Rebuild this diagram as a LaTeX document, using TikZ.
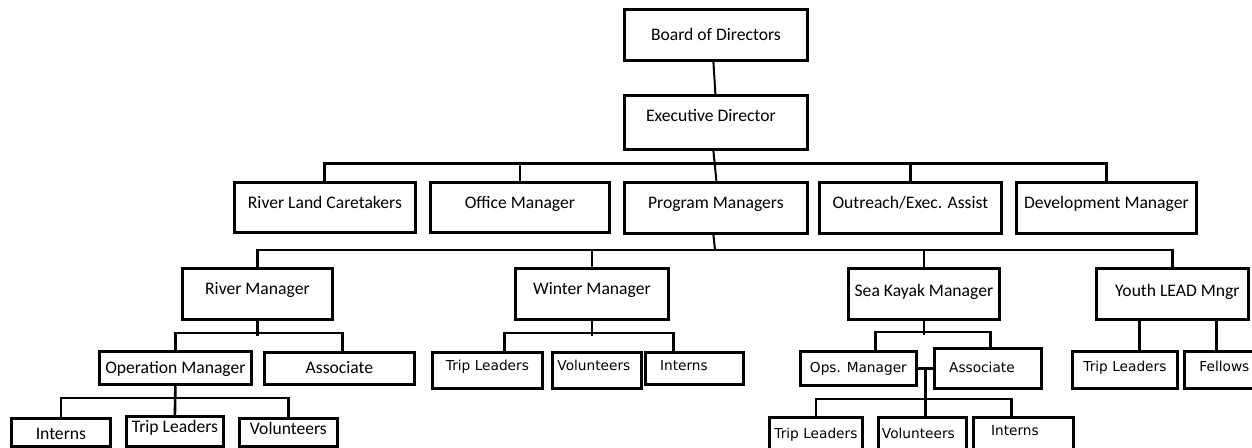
\documentclass[tikz,border=0pt]{standalone}
\usepackage{fontspec}
\setmainfont{Carlito}
\newfontfamily\crewfont{DejaVu Sans}

\begin{document}
\begin{tikzpicture}[x=1pt, y=-1pt,
  unit/.style={draw, line width=2.8pt, inner sep=0pt, anchor=north west, text height=11pt, text depth=0pt, font=\fontsize{17.6}{20}\selectfont},
  crew/.style={unit, text height=10pt, font=\crewfont\fontsize{13.7}{16}\selectfont},
  link/.style={line width=2.6pt},
  bar/.style={line width=3pt}]
	\useasboundingbox (0,0) rectangle (1252,447);
	\clip (0,0) rectangle (1252,447);
	\node[unit, minimum width=183pt, minimum height=51pt] (board) at (623,8) {Board of Directors};
	\node[unit, minimum width=183pt, minimum height=54pt, text depth=12pt] (exec) at (623,94) {Executive Director\hspace*{10pt}};
	\node[unit, minimum width=181pt, minimum height=50pt, text depth=9pt] (rlc) at (233,181) {River Land Caretakers};
	\node[unit, minimum width=179pt, minimum height=50pt, text depth=9pt] (office) at (429,181) {Office Manager};
	\node[unit, minimum width=183pt, minimum height=51pt, text depth=9pt] (prog) at (623,181) {Program Managers};
	\node[unit, minimum width=182pt, minimum height=51pt, text depth=9pt] (outr) at (818,181) {Outreach/Exec. Assist};
	\node[unit, minimum width=180pt, minimum height=51pt, text depth=9pt] (dev) at (1015,181) {Development Manager};
	\node[unit, minimum width=150pt, minimum height=51pt, text depth=10pt] (rivm) at (181,267) {River Manager};
	\node[unit, minimum width=153pt, minimum height=51pt, text depth=10pt] (wint) at (514,267) {Winter Manager};
	\node[unit, minimum width=151pt, minimum height=51pt, text depth=6pt] (sea) at (847,267) {Sea Kayak Manager};
	\node[unit, minimum width=152pt, minimum height=51pt, text depth=6pt] (youth) at (1095,267) {\hspace*{10pt}Youth LEAD Mngr};
	\node[unit, minimum width=152pt, minimum height=33pt] (opm) at (98,350) {Operation Manager};
	\node[unit, minimum width=150pt, minimum height=32pt] (rasc) at (263,351) {Associate};
	\node[unit, minimum width=99pt, minimum height=28pt, text height=14pt] (rint) at (10,417) {Interns};
	\node[unit, minimum width=97pt, minimum height=30pt, text depth=8pt] (rtrip) at (125,415) {Trip Leaders};
	\node[unit, minimum width=98pt, minimum height=28pt, text depth=7pt] (rvol) at (238,417) {Volunteers};
	\node[crew, minimum width=110pt, minimum height=36pt, text depth=9pt] (wtrip) at (431,351) {Trip Leaders};
	\node[crew, minimum width=89pt, minimum height=36pt, text depth=9pt] (wvol) at (551,351) {Volunteers\hspace*{6pt}};
	\node[crew, minimum width=98pt, minimum height=32pt, text depth=5pt] (wintern) at (644,351) {Interns\hspace*{21pt}};
	\node[crew, minimum width=116pt, minimum height=34pt, text depth=2pt] (sops) at (799,350) {Ops. Manager};
	\node[crew, minimum width=107pt, minimum height=40pt, text depth=2pt] (sasc) at (933,347) {Associate\hspace*{12pt}};
	\node[crew, minimum width=93pt, minimum height=33pt] (strip) at (768,416) {Trip Leaders};
	\node[crew, minimum width=88pt, minimum height=33pt] (svol) at (877,416) {Volunteers\hspace*{8pt}};
	\node[crew, minimum width=100pt, minimum height=33pt, text depth=6pt] (sint) at (972,416) {Interns\hspace*{17pt}};
	\node[crew, minimum width=105pt, minimum height=37pt, text depth=7pt] (ytrip) at (1071,350) {Trip Leaders};
	\node[crew, minimum width=80pt, minimum height=37pt, text depth=7pt] (yfel) at (1183,350) {Fellows};
	\coordinate (pbar) at (715,250);
	\draw[line width=2pt] ([xshift=-2.5pt]board.south) -- ([xshift=-0.5pt]exec.north);
	\draw[bar] (rlc.north) -- ++(0,-18) -| (dev.north);
	\draw[link] (office.north) -- ++(0,-18);
	\draw[link] (outr.north) -- ++(0,-18);
	\draw[line width=2pt] ([xshift=-2.5pt]exec.south) -- ([xshift=0.5pt]prog.north);
	\draw[line width=2pt] ([xshift=-2.5pt]prog.south) -- (pbar);
	\draw[link] (rivm.north) -- ++(0,-17) -| (youth.north);
	\draw[link] (wint.north) -- ++(0,-17);
	\draw[link] (sea.north) -- ++(0,-17);
	\draw[link] (rivm.south) -- ++(0,15);
	\draw[link] (opm.north) -- ++(0,-17) -| ([xshift=3pt]rasc.north);
	\draw[link] (opm.south) -- (rtrip.north);
	\draw[link] (rint.north) -- ++(0,-19) -| (rvol.north);
	\draw[link] (wint.south) -- ++(0,15);
	\draw[link] ([xshift=17pt]wtrip.north) -- ++(0,-18) -| ([xshift=-21pt]wintern.north);
	\draw[link] (sea.south) -- ++(0,14);
	\draw[link] ([xshift=17pt]sops.north) -- ++(0,-18) -| ([xshift=2.5pt]sasc.north);
	\draw[link] (sops.east) -- (sasc.west);
	\path (sops.east) -- (sasc.west) coordinate[midway] (sjoin);
	\draw[link] (sjoin) -- (sjoin |- svol.north);
	\draw[link] (strip.north) -- ++(0,-17) -| ([xshift=-12pt]sint.north);
	\draw[link] ([xshift=14.5pt]ytrip.north) -- ([xshift=14.5pt]ytrip.north |- youth.south);
	\draw[link] ([xshift=-8pt]yfel.north) -- ([xshift=-8pt]yfel.north |- youth.south);
\end{tikzpicture}
\end{document}
